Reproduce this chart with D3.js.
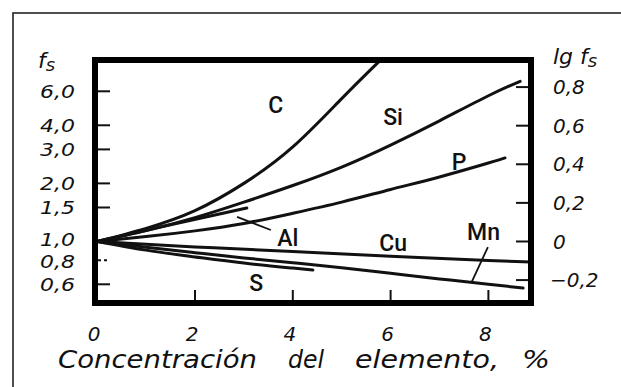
<!DOCTYPE html>
<html>
<head>
<meta charset="utf-8">
<script src="https://cdn.jsdelivr.net/npm/d3@7"></script>
<style>
  html, body { margin: 0; padding: 0; background: #fff; }
  svg { display: block; }
  .num { font-family: "DejaVu Sans", sans-serif; font-style: italic; font-size: 20px; fill: #111; }
  .lab { font-family: Roboto, "Liberation Sans", sans-serif; font-weight: 500; font-size: 23px; fill: #111; }
</style>
</head>
<body>
<svg id="chart" width="621" height="387"></svg>
<script>
// Sulfur activity coefficient f_S in iron vs. alloying element content (%)
const elements = ["C", "Si", "P", "Al", "Cu", "Mn", "S"];

const pctC  = [0, 1, 2, 3, 4, 5, 5.75];
const fsC   = [1.0, 1.17, 1.445, 2.0, 3.09, 5.5, 8.5];

const pctSi = [0, 1, 2, 3, 4, 5, 6, 7, 8, 8.65];
const fsSi  = [1.0, 1.14, 1.33, 1.60, 1.95, 2.43, 3.16, 4.22, 5.69, 6.76];

const pctP  = [0, 1, 2, 3, 4, 5, 6, 7, 8, 8.34];
const fsP   = [1.0, 1.06, 1.135, 1.24, 1.40, 1.60, 1.86, 2.16, 2.55, 2.71];

const pctAl = [0, 1.5, 3.06];
const fsAl  = [1.0, 1.22, 1.49];

const pctCu = [0, 2, 4, 6, 8, 8.9];
const fsCu  = [1.0, 0.937, 0.887, 0.838, 0.798, 0.782];

const pctMn = [0, 1, 2, 3, 4, 5, 6, 7, 8, 8.71];
const fsMn  = [1.0, 0.933, 0.875, 0.822, 0.776, 0.730, 0.684, 0.640, 0.600, 0.574];

const pctS  = [0, 1, 2, 3, 4, 4.41];
const fsS   = [1.0, 0.902, 0.832, 0.773, 0.728, 0.711];

// axis ticks
const xTicks = [0, 2, 4, 6, 8];
const fsTicks = [6.0, 4.0, 3.0, 2.0, 1.5, 1.0, 0.8, 0.6];
const fsTickLabels = ["6,0", "4,0", "3,0", "2,0", "1,5", "1,0", "0,8", "0,6"];
const lgTicks = [0.8, 0.6, 0.4, 0.2, 0, -0.2];
const lgTickLabels = ["0,8", "0,6", "0,4", "0,2", "0", "\u22120,2"];

// curve name placements (percent, f_S)
const labelPct = [3.65, 6.05, 7.4, 3.9, 6.05, 7.9, 3.25];
const labelFs  = [5.1, 4.45, 2.58, 1.043, 0.982, 1.12, 0.61];

// leader lines: [pct0, fs0, pct1, fs1]
const leaderAl = [3.55, 1.147, 2.86, 1.34];
const leaderMn = [7.99, 0.936, 7.66, 0.617];

const svg = d3.select("#chart");

const x = d3.scaleLinear().domain([0, 8]).range([97.2, 488.4]);
const y = d3.scaleLog().domain([0.6, 6]).range([284.3, 91.3]);
const lg = d3.scaleLinear().domain([-0.2, 0.8]).range([y(Math.pow(10, -0.2)), y(Math.pow(10, 0.8))]);

// outer frame
svg.append("rect")
  .attr("x", 13).attr("y", 13).attr("width", 640).attr("height", 400)
  .attr("fill", "none").attr("stroke", "#222").attr("stroke-width", 1.6);

const box = { x0: 95, y0: 60, x1: 531, y1: 303 };

svg.append("clipPath").attr("id", "plotclip")
  .append("rect").attr("x", box.x0).attr("y", box.y0)
  .attr("width", box.x1 - box.x0).attr("height", box.y1 - box.y0);

const line = d3.line()
  .x(d => x(d[0])).y(d => y(d[1]))
  .curve(d3.curveNatural);

const series = [
  [pctC, fsC], [pctSi, fsSi], [pctP, fsP], [pctAl, fsAl],
  [pctCu, fsCu], [pctMn, fsMn], [pctS, fsS]
];

const g = svg.append("g").attr("clip-path", "url(#plotclip)");
series.forEach(([xs, ys]) => {
  g.append("path")
    .datum(xs.map((v, i) => [v, ys[i]]))
    .attr("d", line)
    .attr("fill", "none")
    .attr("stroke", "#111")
    .attr("stroke-width", 3)
    .attr("stroke-linecap", "round")
    .attr("stroke-linejoin", "round");
});

// leaders
[leaderAl, leaderMn].forEach(l => {
  svg.append("line")
    .attr("x1", x(l[0])).attr("y1", y(l[1]))
    .attr("x2", x(l[2])).attr("y2", y(l[3]))
    .attr("stroke", "#111").attr("stroke-width", 1.8);
});

// curve names
elements.forEach((name, i) => {
  svg.append("text").attr("class", "lab")
    .attr("x", x(labelPct[i])).attr("y", y(labelFs[i]))
    .attr("text-anchor", "middle").attr("dy", "0.36em")
    .text(name);
});

// left ticks (f_S); the crowded 1,0 / 0,8 pair is eased apart a little
fsTicks.forEach((v, i) => {
  const nudge = v === 1.0 ? -1.5 : (v === 0.8 ? 1.5 : 0);
  svg.append("line")
    .attr("x1", box.x0 + 3).attr("x2", box.x0 + 15)
    .attr("y1", y(v)).attr("y2", y(v))
    .attr("stroke", "#111").attr("stroke-width", 2)
    .attr("stroke-dasharray", v === 0.8 ? "3,3" : null);
  svg.append("text").attr("class", "num")
    .attr("x", 75).attr("y", y(v) + nudge).attr("dy", "0.36em")
    .attr("text-anchor", "end")
    .attr("textLength", 35).attr("lengthAdjust", "spacingAndGlyphs")
    .style("font-size", "18px")
    .text(fsTickLabels[i]);
});

// right ticks (lg f_S)
lgTicks.forEach((v, i) => {
  svg.append("line")
    .attr("x1", box.x1 - 15).attr("x2", box.x1 - 3)
    .attr("y1", lg(v)).attr("y2", lg(v))
    .attr("stroke", "#111").attr("stroke-width", 2);
  svg.append("text").attr("class", "num")
    .attr("x", v < 0 ? 550 : 553).attr("y", lg(v)).attr("dy", "0.36em")
    .text(lgTickLabels[i]);
});

// bottom ticks
xTicks.forEach(v => {
  if (v > 0) {
    svg.append("line")
      .attr("x1", x(v)).attr("x2", x(v))
      .attr("y1", box.y1 - 3).attr("y2", box.y1 - 13)
      .attr("stroke", "#111").attr("stroke-width", 2);
  }
  svg.append("text").attr("class", "num")
    .attr("x", x(v) - 3).attr("y", 341)
    .attr("text-anchor", "middle")
    .text(String(v));
});

// plot box
svg.append("rect")
  .attr("x", box.x0).attr("y", box.y0)
  .attr("width", box.x1 - box.x0).attr("height", box.y1 - box.y0)
  .attr("fill", "none").attr("stroke", "#000").attr("stroke-width", 6);

// axis titles
const fsT = svg.append("text").attr("class", "num").attr("x", 38).attr("y", 68).style("font-size", "22px");
fsT.append("tspan").text("f");
fsT.append("tspan").attr("dy", 3).style("font-size", "18px").text("s");

const lgT = svg.append("text").attr("class", "num").attr("x", 553).attr("y", 64).style("font-size", "22px");
lgT.append("tspan").text("lg f");
lgT.append("tspan").attr("dy", 3).style("font-size", "18px").text("s");

const title = svg.append("text").attr("class", "num").attr("y", 368).style("font-size", "25px");
[["Concentración", 58, 199], ["del", 288, 36], ["elemento,", 355, 144], ["%", 522, 28]].forEach(([w, px, len]) => {
  title.append("tspan").attr("x", px).attr("textLength", len)
    .attr("lengthAdjust", "spacingAndGlyphs").text(w);
});
</script>
</body>
</html>
